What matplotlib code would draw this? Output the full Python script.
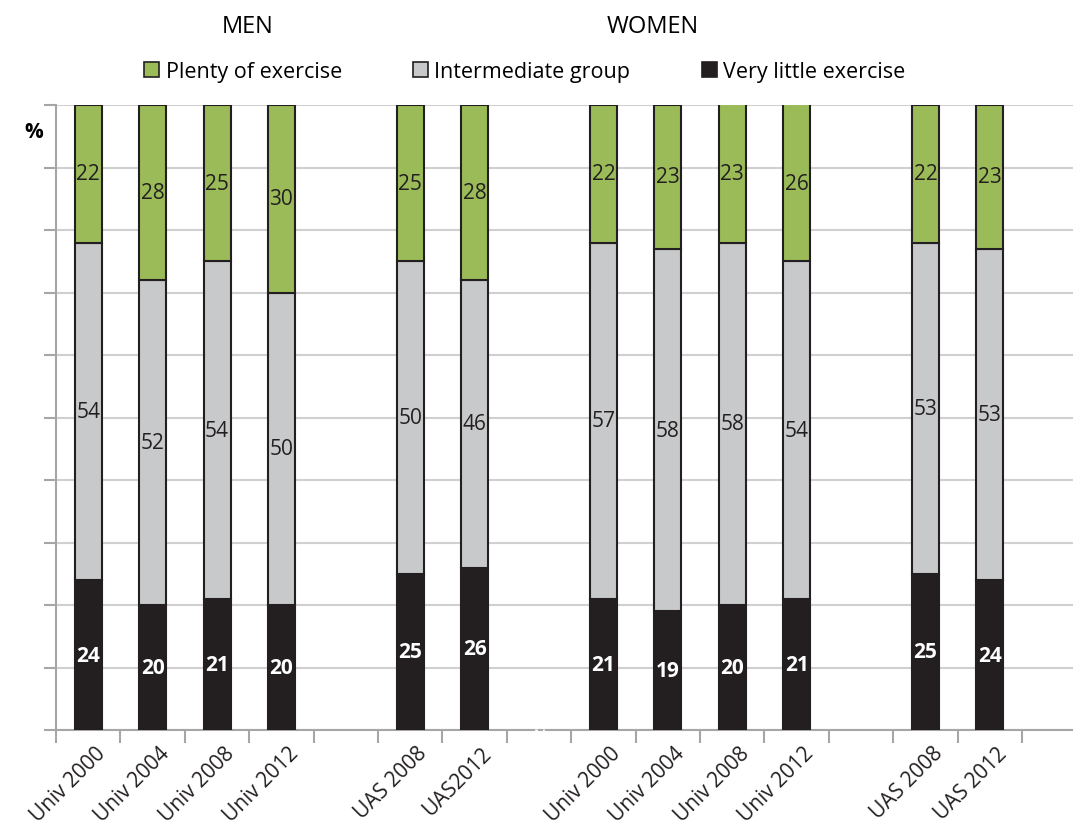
import numpy as np
import matplotlib
matplotlib.use("Agg")
import matplotlib.pyplot as plt
from matplotlib.patches import Patch

plt.rcParams["font.family"] = ["Open Sans", "DejaVu Sans"]

# slots along the x axis; empty strings are the spacer slots
labels = ["Univ 2000", "Univ 2004", "Univ 2008", "Univ 2012", "",
          "UAS 2008", "UAS2012", "",
          "Univ 2000", "Univ 2004", "Univ 2008", "Univ 2012", "",
          "UAS 2008", "UAS 2012"]
slots = [0, 1, 2, 3, 5, 6, 8, 9, 10, 11, 13, 14]
bar_labels = [l for l in labels if l]

very_little = [24, 20, 21, 20, 25, 26, 21, 19, 20, 21, 25, 24]
intermediate = [54, 52, 54, 50, 50, 46, 57, 58, 58, 54, 53, 53]
plenty = [22, 28, 25, 30, 25, 28, 22, 23, 23, 26, 22, 23]

c_green = "#9BBB59"
c_gray = "#C8C9CB"
c_black = "#231F20"
edge = "#231F20"

fig = plt.figure(figsize=(10.73, 8.29), dpi=100)
ax = fig.add_axes([0.0522, 0.1182, 0.9478, 0.7539])

x = np.array(slots)
vl = np.array(very_little)
im = np.array(intermediate)
pl = np.array(plenty)
w = 0.42
ax.bar(x, vl, w, color=c_black, edgecolor=edge, linewidth=1.5, zorder=3)
ax.bar(x, im, w, bottom=vl, color=c_gray, edgecolor=edge, linewidth=1.5, zorder=3)
ax.bar(x, pl, w, bottom=vl + im, color=c_green, edgecolor=edge, linewidth=1.5, zorder=3)

for xi, a, b, c in zip(x, vl, im, pl):
    ax.text(xi, a / 2, str(a), ha="center", va="center", color="white",
            fontsize=15, fontweight="bold", zorder=4)
    ax.text(xi, a + b / 2, str(b), ha="center", va="center", color="#231F20",
            fontsize=15, zorder=4)
    top = min(a + b + c, 100)
    ax.text(xi, (a + b + top) / 2, str(c), ha="center", va="center",
            color="#231F20", fontsize=15, zorder=4)

ax.set_ylim(0, 100)
ax.set_xlim(-0.5, 15.29)
ax.set_yticks(np.arange(0, 101, 10))
ax.set_yticklabels([])
ax.grid(axis="y", color="#D0D0D0", linewidth=1.5, zorder=0)
ax.tick_params(axis="y", length=9, width=1.5, color="#A6A6A6", direction="out")

ax.set_xticks(x)
ax.set_xticklabels([])
ax.set_xticks(np.arange(-0.5, 15.5, 1), minor=True)
ax.tick_params(axis="x", which="major", length=0)
ax.tick_params(axis="x", which="minor", length=9, width=1.5, color="#A6A6A6")
for xi, lab in zip(x, bar_labels):
    ax.text(xi + 0.1, -2.0, lab, rotation=45, ha="right", va="top",
            rotation_mode="anchor", fontsize=15, color="#231F20")

for side in ["top", "right", "bottom"]:
    ax.spines[side].set_visible(False)
ax.spines["left"].set_color("#A6A6A6")
ax.spines["left"].set_linewidth(1.5)
# bottom axis line with a small break
ax.plot([-0.5, 6.92], [0, 0], color="#A6A6A6", lw=1.5, clip_on=False, zorder=2)
ax.plot([7.0, 7.04], [0, 0], color="#A6A6A6", lw=1.5, clip_on=False, zorder=2)
ax.plot([7.11, 15.29], [0, 0], color="#A6A6A6", lw=1.5, clip_on=False, zorder=2)

fig.text(0.031, 0.84, "%", fontsize=15, fontweight="bold", ha="center", va="center")
fig.text(0.231, 0.968, "MEN", fontsize=17, ha="center", va="center")
fig.text(0.608, 0.968, "WOMEN", fontsize=17, ha="center", va="center")

handles = [Patch(facecolor=c_green, edgecolor=edge, linewidth=1.2),
           Patch(facecolor=c_gray, edgecolor=edge, linewidth=1.2),
           Patch(facecolor=c_black, edgecolor=edge, linewidth=1.2)]
fig.legend(handles, ["Plenty of exercise", "Intermediate group", "Very little exercise"],
           loc="center", bbox_to_anchor=(0.489, 0.913), ncol=3, frameon=False,
           fontsize=15.5, handlelength=0.7, handleheight=0.7, handletextpad=0.3,
           columnspacing=3.3)

fig.savefig("out.png", dpi=100)
